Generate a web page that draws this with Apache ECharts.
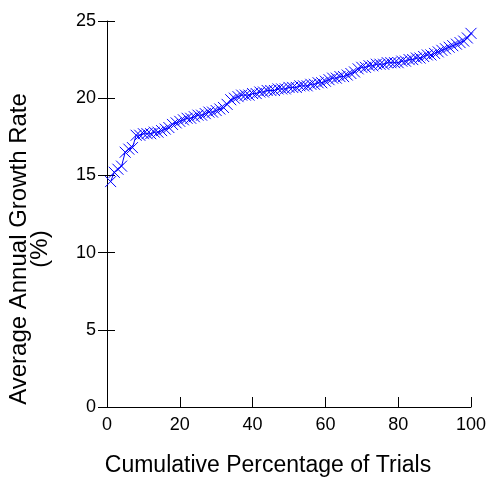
<!DOCTYPE html>
<html>
<head>
    <meta charset="utf-8">
    <title>ECharts</title>
    <script src="https://cdn.jsdelivr.net/npm/echarts@6/dist/echarts.min.js"></script>
</head>
<body style="margin:0">
<div id="main" style="width: 489px;height:483px;"></div>
<script type="text/javascript">
    // cumulative percentage of trials (x) and sorted growth rate (y)
    var pct = [];
    for (var i = 1; i <= 100; i++) pct.push(i);
    var growth = [
        14.6, 15.2, 15.4, 15.6, 16.5, 16.7, 16.8, 17.6, 17.6, 17.7,
        17.7, 17.7, 17.8, 17.8, 17.9, 18.0, 18.1, 18.3, 18.4, 18.5,
        18.6, 18.7, 18.7, 18.8, 18.9, 18.9, 19.0, 19.1, 19.1, 19.2,
        19.3, 19.4, 19.6, 19.9, 20.0, 20.1, 20.2, 20.2, 20.2, 20.3,
        20.3, 20.4, 20.4, 20.5, 20.5, 20.5, 20.6, 20.6, 20.6, 20.7,
        20.7, 20.7, 20.8, 20.8, 20.8, 20.9, 20.9, 21.0, 21.0, 21.1,
        21.2, 21.3, 21.3, 21.4, 21.4, 21.5, 21.6, 21.7, 21.9, 22.0,
        22.0, 22.1, 22.1, 22.2, 22.2, 22.2, 22.3, 22.3, 22.3, 22.3,
        22.4, 22.4, 22.5, 22.5, 22.6, 22.6, 22.7, 22.8, 22.8, 22.9,
        23.0, 23.1, 23.2, 23.3, 23.4, 23.5, 23.6, 23.7, 23.9, 24.2
    ];
    var xTitle = 'Cumulative Percentage of Trials';
    var yTitle = 'Average Annual Growth Rate\n(%)';

    var points = pct.map(function (p, i) { return [p, growth[i]]; });
    var font = 'Liberation Sans, Arial, sans-serif';

    var myChart = echarts.init(document.getElementById('main'));
    var option = {
        animation: false,
        grid: {left: 107, right: 17, top: 21, bottom: 76},
        xAxis: {
            type: 'value', min: 0, max: 100, interval: 20,
            splitLine: {show: false},
            axisLine: {lineStyle: {color: '#000', width: 1}},
            axisTick: {inside: true, length: 10, lineStyle: {color: '#000'}},
            axisLabel: {color: '#000', fontSize: 18, fontFamily: font, margin: 9}
        },
        yAxis: [{
            type: 'value', min: 0, max: 25, interval: 5,
            splitLine: {show: false},
            axisLine: {show: true, lineStyle: {color: '#000', width: 1}},
            axisTick: {show: true, length: 9, lineStyle: {color: '#000'}},
            axisLabel: {color: '#000', fontSize: 18, fontFamily: font, margin: 11}
        }, {
            type: 'value', min: 0, max: 25, interval: 5, position: 'left',
            splitLine: {show: false},
            axisLine: {show: false},
            axisTick: {show: true, inside: true, length: 8, lineStyle: {color: '#000'}},
            axisLabel: {show: false}
        }],
        graphic: [{
            type: 'text', x: 268, y: 466,
            style: {text: xTitle, fill: '#000', font: '23px ' + font, textAlign: 'center', textVerticalAlign: 'middle'}
        }, {
            type: 'text', x: 30, y: 249, rotation: Math.PI / 2,
            style: {text: yTitle, fill: '#000', font: '24px ' + font, textAlign: 'center', textVerticalAlign: 'middle', lineHeight: 21}
        }],
        series: [{
            type: 'line',
            data: points,
            symbol: 'path://M0,0L10,10M10,0L0,10',
            symbolSize: 11,
            lineStyle: {color: '#0000ff', width: 1},
            itemStyle: {color: 'transparent', borderColor: '#0000ff', borderWidth: 1}
        }]
    };
    myChart.setOption(option);
</script>
</body>
</html>
